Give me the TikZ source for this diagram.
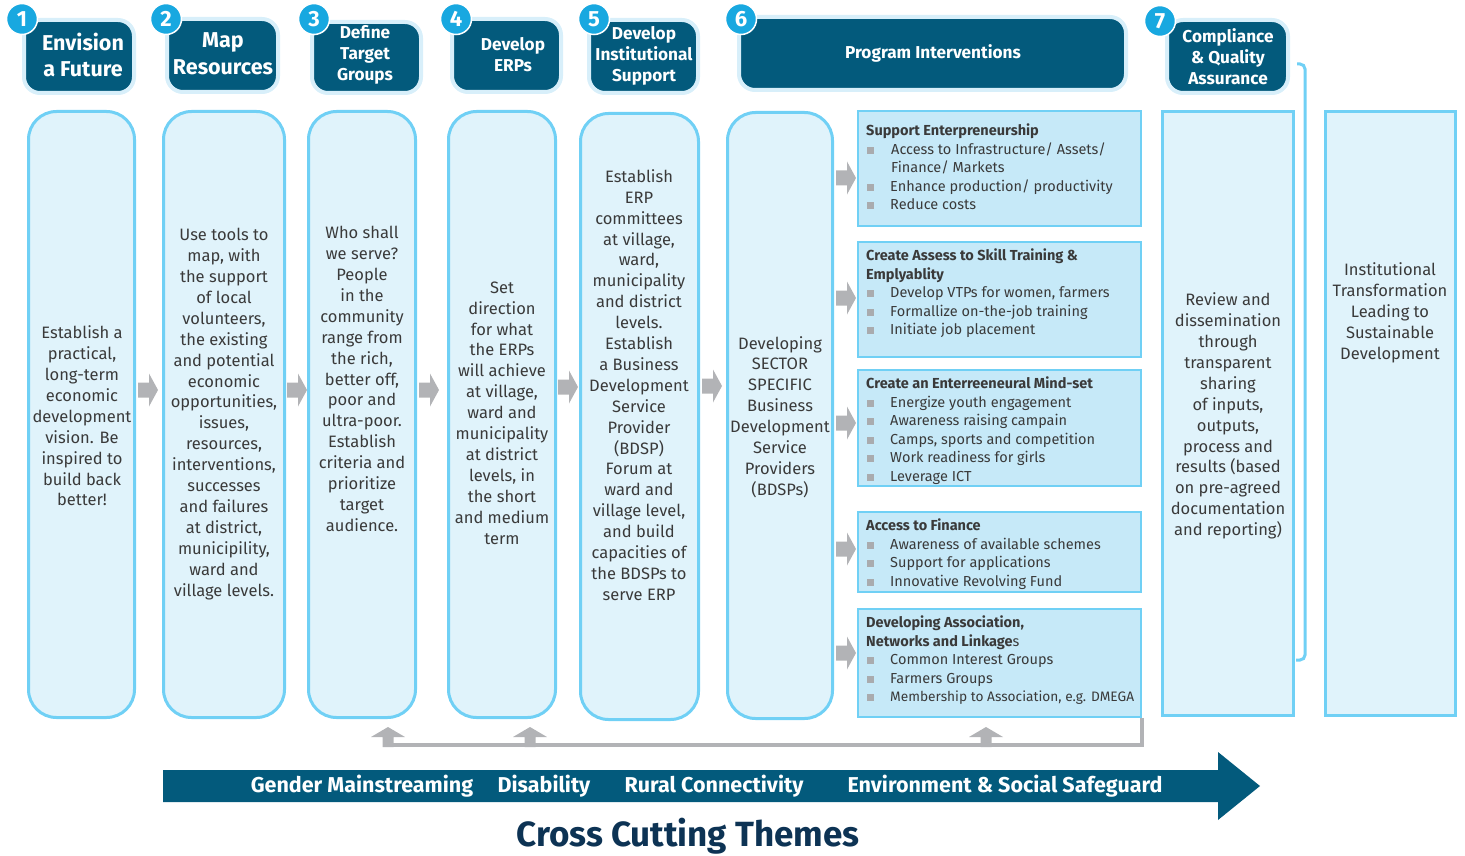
\documentclass[tikz,border=0pt]{standalone}
\usepackage{fontspec}
\setmainfont{Fira Sans}
\definecolor{darkteal}{HTML}{035A7C}
\definecolor{numcyan}{HTML}{18A8E0}
\definecolor{colfill}{HTML}{E0F3FB}
\definecolor{colborder}{HTML}{70D0F5}
\definecolor{boxfill}{HTML}{C6E9F8}
\definecolor{hdrglow}{HTML}{D8EFFA}
\definecolor{arrowgray}{HTML}{B2B3B6}
\definecolor{bulletgray}{HTML}{A9ABAE}
\definecolor{txt}{HTML}{3A3A3A}
\definecolor{titlenavy}{HTML}{0D3354}
\newcommand{\bsq}{\makebox[24pt][l]{\hspace*{1pt}\textcolor{bulletgray}{\rule[0.5pt]{7pt}{7pt}}}}
\begin{document}
\begin{tikzpicture}[x=1pt,y=-1pt,
  col/.style={draw=colborder, fill=colfill, line width=3pt, rounded corners=28pt, inner sep=0},
  sqcol/.style={draw=colborder, fill=colfill, line width=3pt, inner sep=0},
  hdr/.style={draw=hdrglow, fill=darkteal, line width=4pt, rounded corners=16pt, inner sep=0},
  hdrtext/.style={text=white, font=\bfseries\fontsize{17.2}{21}\selectfont, align=center, inner sep=0},
  bighdr/.style={text=white, font=\bfseries\fontsize{21.5}{26.5}\selectfont, align=center, inner sep=0},
  num/.style={circle, fill=numcyan, draw=white, line width=1.5pt, text=white, font=\bfseries\fontsize{22}{22}\selectfont, minimum size=31pt, inner sep=0},
  ctext/.style={text=txt, font=\fontsize{16.5}{20.9}\selectfont, align=center, inner sep=0},
  ibox/.style={draw=colborder, fill=boxfill, line width=2.5pt, inner sep=0},
  itext/.style={text=txt, font=\fontsize{14.5}{18.5}\selectfont, align=left, inner sep=0, anchor=north west},
  theme/.style={text=white, font=\bfseries\fontsize{21.5}{24}\selectfont, inner sep=0},
  rarrow/.pic={\fill[arrowgray] (0,-7.5) -- (11,-7.5) -- (11,-16.5) -- (20,0) -- (11,16.5) -- (11,7.5) -- (0,7.5) -- cycle;},
  uarrow/.pic={\fill[arrowgray] (-5.5,20) -- (-5.5,10) -- (-17,10) -- (0,0) -- (17,10) -- (5.5,10) -- (5.5,20) -- cycle;},
  fbline/.style={draw=arrowgray, line width=4pt},
  bracket/.style={draw=colborder, line width=3pt, rounded corners=5pt}
]
\useasboundingbox (0,0) rectangle (1465,856);

% columns
\node[col, minimum width=106, minimum height=606] (c1) at (81.5,414.5) {};
\node[col, minimum width=121, minimum height=606] (c2) at (224,414.5) {};
\node[col, minimum width=107, minimum height=606] (c3) at (362,414.5) {};
\node[col, minimum width=107, minimum height=606] (c4) at (502,414.5) {};
\node[col, minimum width=118, minimum height=606] (c5) at (639.5,416.5) {};
\node[col, minimum width=105, minimum height=606] (c6) at (780,415.5) {};
\node[sqcol, minimum width=131, minimum height=604] (c7) at (1228,413.5) {};
\node[sqcol, minimum width=130, minimum height=604] (c8) at (1390.5,413.5) {};

% column texts
\node[ctext] (t1) at (82,416) {Establish a\\practical,\\long-term\\economic\\development\\vision. Be\\inspired to\\build back\\better!};
\node[ctext] (t2) at (224,414) {Use tools to\\map, with\\the support\\of local\\volunteers,\\the existing\\and potential\\economic\\opportunities,\\issues,\\resources,\\interventions,\\successes\\and failures\\at district,\\municipility,\\ward and\\village levels.};
\node[ctext] (t3) at (362,379) {Who shall\\we serve?\\People\\in the\\community\\range from\\the rich,\\better off,\\poor and\\ultra-poor.\\Establish\\criteria and\\prioritize\\target\\audience.};
\node[ctext] (t4) at (502,413) {Set\\direction\\for what\\the ERPs\\will achieve\\at village,\\ward and\\municipality\\at district\\levels, in\\the short\\and medium\\term};
\node[ctext] (t5) at (639,385) {Establish\\ERP\\committees\\at village,\\ward,\\municipality\\and district\\levels.\\Establish\\a Business\\Development\\Service\\Provider\\(BDSP)\\Forum at\\ward and\\village level,\\and build\\capacities of\\the BDSPs to\\serve ERP};
\node[ctext] (t6) at (780,417) {Developing\\SECTOR\\SPECIFIC\\Business\\Development\\Service\\Providers\\(BDSPs)};
\node[ctext] (t7) at (1228,416) {Review and\\dissemination\\through\\transparent\\sharing\\of inputs,\\outputs,\\process and\\results (based\\on pre-agreed\\documentation\\and reporting)};
\node[ctext] (t8) at (1390,313) {Institutional\\Transformation\\Leading to\\Sustainable\\Development};

% headers
\node[hdr, minimum width=110, minimum height=73] (h1) at (79,56.5) {};
\node[hdr, minimum width=111, minimum height=73] (h2) at (222.5,55.5) {};
\node[hdr, minimum width=109, minimum height=71] (h3) at (366.5,57.5) {};
\node[hdr, minimum width=109, minimum height=73] (h4) at (506.5,55.5) {};
\node[hdr, minimum width=109, minimum height=73] (h5) at (643.5,56.5) {};
\node[hdr, minimum width=387, minimum height=73] (h6) at (932.5,53.5) {};
\node[hdr, minimum width=121, minimum height=73] (h7) at (1227.5,56.5) {};
\node[bighdr] (ht1) at (83,55) {Envision\\a Future};
\node[bighdr] (ht2) at (223,53.5) {Map\\Resources};
\node[hdrtext] (ht3) at (365,55) {Define\\Target\\Groups};
\node[hdrtext] (ht4) at (513,55) {Develop\\ERPs};
\node[hdrtext] (ht5) at (644,56) {Develop\\Institutional\\Support};
\node[hdrtext] (ht6) at (933,53) {Program Interventions};
\node[hdrtext] (ht7) at (1228,57) {Compliance\\\& Quality\\Assurance};

% number badges
\node[num] (n1) at (22,19) {1};
\node[num] (n2) at (166,19) {2};
\node[num] (n3) at (314,19) {3};
\node[num] (n4) at (456,19) {4};
\node[num] (n5) at (594,19) {5};
\node[num] (n6) at (741,19) {6};
\node[num] (n7) at (1160,21) {7};

% intervention boxes
\node[ibox, minimum width=283, minimum height=115] (b1) at (999.5,168.5) {};
\node[ibox, minimum width=283, minimum height=115] (b2) at (999.5,299.5) {};
\node[ibox, minimum width=283, minimum height=116] (b3) at (999.5,428) {};
\node[ibox, minimum width=283, minimum height=80] (b4) at (999.5,552) {};
\node[ibox, minimum width=283, minimum height=108] (b5) at (999.5,663) {};

\node[itext] (bt1) at (866,124) {\textbf{Support Enterpreneurship}\\
\bsq\hspace*{1pt}Access to Infrastructure/ Assets/\\
\hspace*{25pt}Finance/ Markets\\
\bsq Enhance production/ productivity\\
\bsq Reduce costs};
\node[itext] (bt2) at (866,249) {\textbf{Create Assess to Skill Training \&}\\
\textbf{Emplyablity}\\
\bsq Develop VTPs for women, farmers\\
\bsq Formallize on-the-job training\\
\bsq Initiate job placement};
\node[itext] (bt3) at (866,377) {\textbf{Create an Enterreeneural Mind-set}\\
\bsq Energize youth engagement\\
\bsq Awareness raising campain\\
\bsq Camps, sports and competition\\
\bsq Work readiness for girls\\
\bsq Leverage ICT};
\node[itext] (bt4) at (866,519) {\textbf{Access to Finance}\\
\bsq Awareness of available schemes\\
\bsq Support for applications\\
\bsq Innovative Revolving Fund};
\node[itext] (bt5) at (866,616) {\textbf{Developing Association,}\\
\textbf{Networks and Linkage}s\\
\bsq Common Interest Groups\\
\bsq Farmers Groups\\
\bsq {\fontsize{13.7}{18.5}\selectfont Membership to Association, e.g. DMEGA}};

% arrows between columns
\path (138,390) pic {rarrow};
\path (287,390) pic {rarrow};
\path (419,390) pic {rarrow};
\path (558,387) pic {rarrow};
\path (702,386) pic {rarrow};
\path (836,178) pic {rarrow};
\path (836,298) pic {rarrow};
\path (836,423) pic {rarrow};
\path (836,549) pic {rarrow};
\path (836,653) pic {rarrow};

% feedback line
\coordinate (fbL) at (383,745);
\coordinate (fbR) at (1142,745);
\draw[fbline] (fbL) -- (fbR) -- (fbR |- b5.south);
\path (388,727) pic {uarrow};
\path (530,727) pic {uarrow};
\path (986,727) pic {uarrow};

% bracket from compliance header to column 7
\coordinate (brA) at (1297,64);
\coordinate (brB) at (1296,660);
\draw[bracket] (brA) -- (1305,64) -- (1305,660) -- (brB);

% cross cutting arrow
\fill[darkteal] (163,770) -- (1218,770) -- (1218,752) -- (1260,786) -- (1218,820) -- (1218,802) -- (163,802) -- cycle;
\node[theme] (g1) at (362,786) {Gender Mainstreaming};
\node[theme] (g2) at (544,786) {Disability};
\node[theme] (g3) at (714,786) {Rural Connectivity};
\node[theme] (g4) at (1005,786) {Environment \& Social Safeguard};
\node[text=titlenavy, font=\bfseries\fontsize{35}{40}\selectfont, inner sep=0] (title) at (688,836) {Cross Cutting Themes};
\end{tikzpicture}
\end{document}
